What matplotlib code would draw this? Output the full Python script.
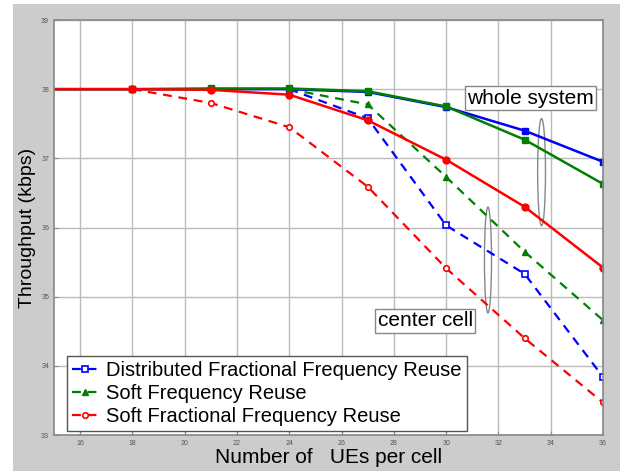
import matplotlib
matplotlib.use('Agg')
from matplotlib import pyplot as plt
from matplotlib.patches import Ellipse, Rectangle

# number of UEs per cell
ues = [15, 18, 21, 24, 27, 30, 33, 36]
ues_center_red = [18, 21, 24, 27, 30, 33, 36]
ues_center = [24, 27, 30, 33, 36]

# whole system throughput (kbps)
dffr_whole = [38.0, 38.0, 38.0, 38.0, 37.96, 37.74, 37.40, 36.95]
sfr_whole = [38.0, 38.0, 38.01, 38.01, 37.97, 37.75, 37.27, 36.63]
sffr_whole = [38.0, 38.0, 37.99, 37.92, 37.55, 36.98, 36.30, 35.42]

# center cell throughput (kbps)
dffr_center = [38.0, 37.58, 36.03, 35.33, 33.84]
sfr_center = [38.0, 37.78, 36.73, 35.65, 34.66]
sffr_center = [38.0, 37.80, 37.45, 36.59, 35.41, 34.40, 33.47]

labels = ['Distributed Fractional Frequency Reuse',
          'Soft Frequency Reuse',
          'Soft Fractional Frequency Reuse']

plt.rcParams['font.family'] = ['Liberation Sans', 'DejaVu Sans']

fig = plt.figure(figsize=(6.2, 4.71), dpi=100, facecolor='white')
# gray panel behind the plot (white strip left and top)
fig.patches.append(Rectangle((13 / 620, 0), 1, 1 - 4 / 471, transform=fig.transFigure,
                             facecolor='#cccccc', edgecolor='none', zorder=-1))
ax = fig.add_axes([54 / 620, 36 / 471, 549 / 620, 415 / 471])
ax.set_facecolor('white')

# center cell (dashed)
h1, = ax.plot(ues_center, dffr_center, '--', color='blue', lw=1.6, marker='s', ms=4,
              mfc='white', mec='blue', mew=1.2, markevery=[1, 2, 3, 4], dashes=(4, 3))
h2, = ax.plot(ues_center, sfr_center, '--', color='green', lw=1.6, marker='^', ms=4,
              mfc='green', mec='green', markevery=[1, 2, 3, 4], dashes=(4, 3))
h3, = ax.plot(ues_center_red, sffr_center, '--', color='red', lw=1.6, marker='o', ms=4,
              mfc='white', mec='red', mew=1.2, dashes=(4, 3))

# whole system (solid)
mk = list(range(1, len(ues)))
ax.plot(ues, dffr_whole, '-', color='blue', lw=1.8, marker='s', ms=5, markevery=mk)
ax.plot(ues, sfr_whole, '-', color='green', lw=1.8, marker='s', ms=5, markevery=mk)
ax.plot(ues, sffr_whole, '-', color='red', lw=1.8, marker='o', ms=5, markevery=mk)

ax.set_xlim(15, 36)
ax.set_ylim(33, 39)
ax.set_xticks(range(16, 37, 2))
ax.set_yticks(range(33, 40))
ax.grid(True, color='#bbbbbb', lw=1)
ax.set_axisbelow(True)
ax.tick_params(labelsize=5, labelcolor='#555555', color='#888888', length=3, direction='in')
for s in ax.spines.values():
    s.set_color('#888888')
    s.set_linewidth(1.2)

ax.set_xlabel('Number of   UEs per cell', fontsize=15, labelpad=1)
ax.set_ylabel('Throughput (kbps)', fontsize=14, labelpad=4)

# annotations
ax.text(30.8, 37.87, 'whole system', fontsize=15, va='center', ha='left',
        bbox=dict(boxstyle='square,pad=0.12', fc='white', ec='#888888'))
ax.add_patch(Ellipse((33.65, 36.80), 0.3, 1.55, fill=False, ec='#888888', lw=1))
ax.text(27.38, 34.65, 'center cell', fontsize=15, va='center', ha='left',
        bbox=dict(boxstyle='square,pad=0.12', fc='white', ec='#888888'))
ax.add_patch(Ellipse((31.6, 35.53), 0.27, 1.53, fill=False, ec='#888888', lw=1))

leg = ax.legend([h1, h2, h3], labels, loc='lower left', bbox_to_anchor=(0.0237, 0.01),
                borderaxespad=0, fontsize=14.5, handlelength=1.3, handletextpad=0.4,
                labelspacing=0.2, borderpad=0.25, fancybox=False, framealpha=1,
                edgecolor='#555555')
leg.get_frame().set_linewidth(1)

fig.savefig('out.png', dpi=100, facecolor=fig.get_facecolor())
